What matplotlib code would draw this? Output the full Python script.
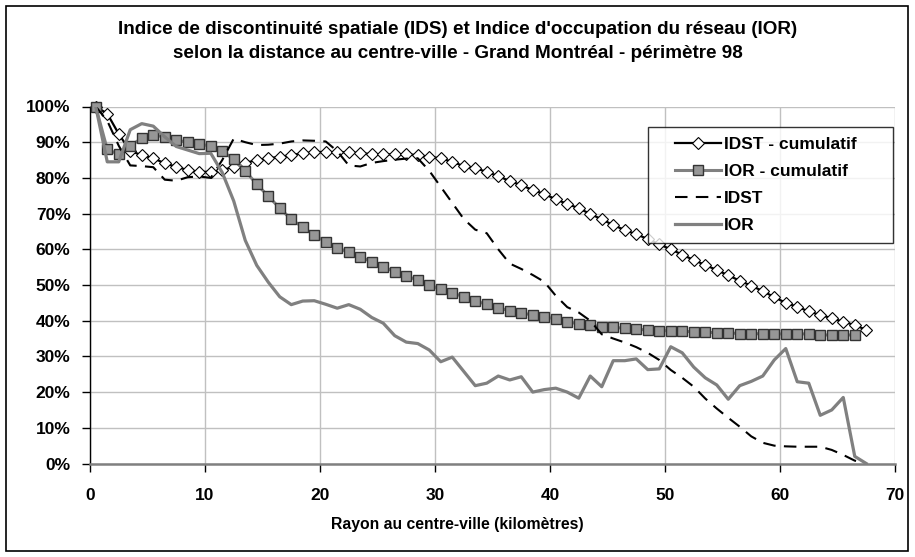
import matplotlib
matplotlib.use("Agg")
import matplotlib.pyplot as plt
from matplotlib.patches import Rectangle
from matplotlib.ticker import FuncFormatter, MultipleLocator
from matplotlib.legend_handler import HandlerLine2D

plt.rcParams['font.family'] = ['Liberation Sans', 'DejaVu Sans']
plt.rcParams['lines.scale_dashes'] = False

# distance (km) at the centre of each 1-km ring
km = [i + 0.5 for i in range(68)]

idst_cumul = [100, 98, 92.3, 87.5, 86.4, 85.5, 84.1, 83.1, 82.2, 81.7,
              81.7, 82.2, 83.1, 84.2, 85.0, 85.5, 85.9, 86.4, 86.9, 87.2,
              87.3, 87.2, 87.2, 86.9, 86.7, 86.6, 86.6, 86.6, 86.4, 85.9,
              85.5, 84.5, 83.3, 82.7, 81.7, 80.5, 79.1, 78.0, 76.6, 75.5,
              74.0, 72.7, 71.5, 69.9, 68.4, 66.8, 65.4, 64.2, 62.9, 61.4,
              60.0, 58.5, 57.0, 55.6, 54.2, 52.7, 51.2, 49.8, 48.3, 46.6,
              45.0, 43.9, 42.6, 41.6, 40.7, 39.7, 38.8, 37.4]

ior_cumul = [100, 88.0, 86.6, 89.0, 91.1, 92.0, 91.5, 90.6, 90.0, 89.5,
             88.9, 87.5, 85.2, 82.0, 78.2, 74.9, 71.5, 68.4, 66.2, 64.0,
             62.1, 60.4, 59.2, 57.9, 56.5, 55.1, 53.7, 52.5, 51.4, 50.0,
             48.8, 47.8, 46.7, 45.5, 44.6, 43.6, 42.8, 42.2, 41.6, 41.1,
             40.5, 39.7, 39.1, 38.8, 38.3, 38.1, 37.9, 37.6, 37.4, 37.2,
             37.2, 37.0, 36.9, 36.8, 36.6, 36.6, 36.4, 36.4, 36.3, 36.3,
             36.3, 36.3, 36.3, 36.0, 36.0, 36.0, 36.0]

idst = [100, 96, 89, 83.5, 83.3, 83, 79.5, 79.2, 80.2, 80.4,
        80, 85, 91, 90, 89.2, 89.3, 89.6, 90.2, 90.5, 90.4,
        90.2, 87.5, 83.5, 83.2, 84.2, 84.7, 85.1, 85.4, 85.5, 82,
        77.5, 73, 68.5, 65.5, 64.5, 60, 56, 54.5, 52.8, 50.9,
        47, 43.8, 42.3, 40, 36.2, 35, 33.9, 32.6, 31, 29,
        26.2, 24, 21.5, 18.2, 15.4, 12.8, 10.3, 7.6, 5.8, 5,
        4.8, 4.7, 4.7, 4.7, 3.8, 2.4, 0.8, 0]

ior = [100, 84.5, 84.5, 93.5, 95.2, 94.5, 91.5, 88.8, 87.8, 86.8,
       86.9, 81.5, 73.5, 62.5, 55.5, 50.8, 46.7, 44.5, 45.5, 45.6,
       44.6, 43.5, 44.5, 43.2, 40.9, 39.3, 35.8, 34, 33.6, 31.8,
       28.5, 29.8, 25.8, 21.8, 22.5, 24.5, 23.4, 24.3, 20, 20.7,
       21.1, 20, 18.3, 24.5, 21.5, 28.8, 28.8, 29.3, 26.3, 26.5,
       32.7, 31, 27, 24, 22, 18, 21.8, 23, 24.5, 29,
       32.2, 22.9, 22.5, 13.5, 15, 18.5, 2, 0]

title1 = "Indice de discontinuité spatiale (IDS) et Indice d'occupation du réseau (IOR)"
title2 = "selon la distance au centre-ville - Grand Montréal - périmètre 98"
xlabel = "Rayon au centre-ville (kilomètres)"
labels = ["IDST - cumulatif", "IOR - cumulatif", "IDST", "IOR"]

W, H = 915, 557
fig = plt.figure(figsize=(W / 100, H / 100), dpi=100)
fig.patch.set_facecolor('white')

def px(x0, y0, x1, y1):
    return [x0 / W, 1 - y1 / H, (x1 - x0) / W, (y1 - y0) / H]

ax = fig.add_axes(px(90, 106.5, 895, 463.5))

gray = '#808080'
l1, = ax.plot(km, [v / 100 for v in idst_cumul], color='black', lw=1.6,
              marker='D', ms=6.4, mfc='white', mec='black', mew=0.8, zorder=5,
              clip_on=False)
l2, = ax.plot(km[:len(ior_cumul)], [v / 100 for v in ior_cumul], color=gray, lw=2.2,
              marker='s', ms=7.6, mfc='#969696', mec='#333333', mew=1.0, zorder=6,
              clip_on=False)
l3, = ax.plot(km, [v / 100 for v in idst], color='black', lw=1.5,
              linestyle=(0, (9, 6)), zorder=7)
l4, = ax.plot(km, [v / 100 for v in ior], color=gray, lw=2.3, zorder=8,
              solid_joinstyle='round')

ax.set_xlim(0, 70)
ax.set_ylim(0, 1)
ax.xaxis.set_major_locator(MultipleLocator(10))
ax.yaxis.set_major_locator(MultipleLocator(0.1))
ax.yaxis.set_major_formatter(FuncFormatter(lambda v, p: f"{round(v * 100)}%"))
ax.grid(True, color='#c0c0c0', lw=1.0)
ax.set_axisbelow(True)
for s in ['top', 'right']:
    ax.spines[s].set_visible(False)
ax.spines['left'].set_color('black')
ax.spines['left'].set_linewidth(1.0)
ax.spines['bottom'].set_color('#808080')
ax.spines['bottom'].set_linewidth(1.8)
ax.tick_params(axis='both', direction='out', length=6, width=1.0, color='black',
               labelsize=12.5)
ax.tick_params(axis='x', pad=12)
ax.tick_params(axis='y', pad=8)
for t in ax.get_xticklabels() + ax.get_yticklabels():
    t.set_fontweight('bold')

fig.text(457 / W, 1 - 524 / H, xlabel, ha='center', va='center', fontsize=11.3,
         fontweight='bold')
fig.text(458 / W, 1 - 30 / H, title1, ha='center', va='center', fontsize=13.6,
         fontweight='bold')
fig.text(458 / W, 1 - 53 / H, title2, ha='center', va='center', fontsize=13.6,
         fontweight='bold')

hmap = {l: HandlerLine2D(xpad=0.94) for l in (l1, l2, l3, l4)}
leg = ax.legend([l1, l2, l3, l4], labels, loc='upper left',
                bbox_to_anchor=((648 - 90) / 805, (463.5 - 240) / 357,
                                (893 - 648) / 805, (240 - 127) / 357),
                mode='expand', borderaxespad=0, frameon=True, fancybox=False,
                prop={'weight': 'bold', 'size': 12.5}, handlelength=3.6,
                labelspacing=0.67, borderpad=0.59, handletextpad=0.2,
                handler_map=hmap)
leg.get_frame().set_edgecolor('black')
leg.get_frame().set_linewidth(1.0)
leg.set_zorder(20)

fig.add_artist(Rectangle((6 / W, 1 - 551 / H), 902 / W, 545 / H,
                         transform=fig.transFigure, fill=False,
                         edgecolor='black', lw=1.2))

fig.savefig('out.png', dpi=100)
